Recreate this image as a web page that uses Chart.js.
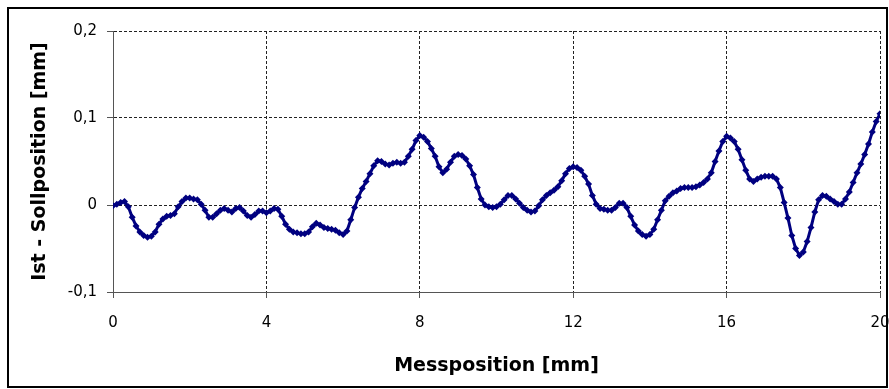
<!DOCTYPE html>
<html>
<head>
<meta charset="utf-8">
<script src="https://cdn.jsdelivr.net/npm/chart.js@4"></script>
<style>
  body { margin: 0; background: #fff; }
  .frame { position: relative; width: 889px; height: 389px; }
  .outline { position: absolute; left: 7px; top: 7px; width: 881px; height: 381px;
             border: 2px solid #000; box-sizing: border-box; pointer-events: none; }
</style>
</head>
<body>
<div class="frame">
  <canvas id="myChart" width="889" height="389"></canvas>
  <div class="outline"></div>
</div>
<script>
  // measured data: position [mm] and deviation Ist - Soll [mm]
  const positions = [
    0, 0.1, 0.2, 0.3, 0.4, 0.5, 0.6, 0.7, 0.8, 0.9,
    1, 1.1, 1.2, 1.3, 1.4, 1.5, 1.6, 1.7, 1.8, 1.9,
    2, 2.1, 2.2, 2.3, 2.4, 2.5, 2.6, 2.7, 2.8, 2.9,
    3, 3.1, 3.2, 3.3, 3.4, 3.5, 3.6, 3.7, 3.8, 3.9,
    4, 4.1, 4.2, 4.3, 4.4, 4.5, 4.6, 4.7, 4.8, 4.9,
    5, 5.1, 5.2, 5.3, 5.4, 5.5, 5.6, 5.7, 5.8, 5.9,
    6, 6.1, 6.2, 6.3, 6.4, 6.5, 6.6, 6.7, 6.8, 6.9,
    7, 7.1, 7.2, 7.3, 7.4, 7.5, 7.6, 7.7, 7.8, 7.9,
    8, 8.1, 8.2, 8.3, 8.4, 8.5, 8.6, 8.7, 8.8, 8.9,
    9, 9.1, 9.2, 9.3, 9.4, 9.5, 9.6, 9.7, 9.8, 9.9,
    10, 10.1, 10.2, 10.3, 10.4, 10.5, 10.6, 10.7, 10.8, 10.9,
    11, 11.1, 11.2, 11.3, 11.4, 11.5, 11.6, 11.7, 11.8, 11.9,
    12, 12.1, 12.2, 12.3, 12.4, 12.5, 12.6, 12.7, 12.8, 12.9,
    13, 13.1, 13.2, 13.3, 13.4, 13.5, 13.6, 13.7, 13.8, 13.9,
    14, 14.1, 14.2, 14.3, 14.4, 14.5, 14.6, 14.7, 14.8, 14.9,
    15, 15.1, 15.2, 15.3, 15.4, 15.5, 15.6, 15.7, 15.8, 15.9,
    16, 16.1, 16.2, 16.3, 16.4, 16.5, 16.6, 16.7, 16.8, 16.9,
    17, 17.1, 17.2, 17.3, 17.4, 17.5, 17.6, 17.7, 17.8, 17.9,
    18, 18.1, 18.2, 18.3, 18.4, 18.5, 18.6, 18.7, 18.8, 18.9,
    19, 19.1, 19.2, 19.3, 19.4, 19.5, 19.6, 19.7, 19.8, 19.9,
    20
  ]

  const deviations = [
    -0.001, 0.001, 0.003, 0.004, -0.002, -0.014, -0.024, -0.031, -0.035, -0.037,
    -0.036, -0.031, -0.022, -0.016, -0.013, -0.012, -0.010, -0.002, 0.004, 0.008,
    0.008, 0.007, 0.006, 0.001, -0.006, -0.014, -0.014, -0.010, -0.006, -0.004,
    -0.006, -0.008, -0.004, -0.003, -0.007, -0.012, -0.014, -0.011, -0.007, -0.007,
    -0.009, -0.007, -0.004, -0.005, -0.013, -0.022, -0.028, -0.031, -0.032, -0.033,
    -0.033, -0.031, -0.025, -0.021, -0.023, -0.026, -0.027, -0.028, -0.029, -0.032,
    -0.034, -0.030, -0.017, -0.003, 0.009, 0.019, 0.027, 0.036, 0.045, 0.051,
    0.050, 0.047, 0.046, 0.048, 0.049, 0.048, 0.049, 0.056, 0.064, 0.074,
    0.080, 0.078, 0.073, 0.065, 0.056, 0.044, 0.037, 0.041, 0.049, 0.056,
    0.058, 0.057, 0.053, 0.045, 0.035, 0.020, 0.007, 0.000, -0.002, -0.003,
    -0.002, 0.001, 0.006, 0.011, 0.011, 0.007, 0.002, -0.003, -0.006, -0.008,
    -0.007, -0.001, 0.006, 0.011, 0.014, 0.017, 0.021, 0.028, 0.036, 0.042,
    0.044, 0.043, 0.040, 0.033, 0.024, 0.011, 0.001, -0.004, -0.005, -0.006,
    -0.006, -0.003, 0.002, 0.002, -0.003, -0.013, -0.023, -0.030, -0.034, -0.036,
    -0.034, -0.028, -0.017, -0.006, 0.005, 0.010, 0.014, 0.016, 0.019, 0.020,
    0.020, 0.020, 0.021, 0.023, 0.026, 0.030, 0.037, 0.050, 0.062, 0.073,
    0.079, 0.077, 0.073, 0.064, 0.052, 0.040, 0.030, 0.027, 0.030, 0.032,
    0.033, 0.033, 0.033, 0.030, 0.020, 0.003, -0.015, -0.035, -0.050, -0.058,
    -0.054, -0.042, -0.026, -0.008, 0.006, 0.011, 0.010, 0.007, 0.004, 0.001,
    0.001, 0.007, 0.015, 0.026, 0.037, 0.047, 0.058, 0.070, 0.084, 0.096,
    0.105
  ]

  const yTickLabels = ['-0,1', '0', '0,1', '0,2']
  const xTitle = 'Messposition [mm]'
  const yTitle = 'Ist - Sollposition [mm]'

  const points = []
  for (let i = 0; i < positions.length; i++) {
    points.push({ x: positions[i], y: deviations[i] })
  }

  const fontFamily = '"DejaVu Sans", Verdana, sans-serif'

  const ctx = document.getElementById('myChart')

  new Chart(ctx, {
    type: 'scatter',
    data: {
      datasets: [{
        data: points,
        pointStyle: 'rectRot',
        pointRadius: 3.5,
        pointBorderWidth: 0,
        backgroundColor: '#000080',
        borderColor: '#000080',
        borderWidth: 3,
        showLine: true
      }]
    },
    options: {
      responsive: false,
      devicePixelRatio: 1,
      animation: false,
      layout: { padding: { left: 8, right: 9, top: 31, bottom: 0 } },
      scales: {
        x: {
          type: 'linear',
          min: 0,
          max: 20,
          ticks: { stepSize: 4, color: '#000', padding: 16, maxRotation: 0,
                   font: { family: fontFamily, size: 15 } },
          grid: { color: '#222', lineWidth: 1, tickLength: 6, tickColor: '#555', tickBorderDash: [] },
          border: { color: '#555', width: 1, dash: [3, 2] },
          title: { display: true, text: xTitle, color: '#000',
                   font: { family: fontFamily, size: 19, weight: 'bold' },
                   padding: { top: 0, bottom: 12 } },
          afterFit: scale => {
            scale.height = 97
            scale.paddingLeft = 0
            scale.paddingRight = 0
          }
        },
        y: {
          min: -0.1,
          max: 0.2,
          ticks: { stepSize: 0.1, color: '#000', padding: 10,
                   font: { family: fontFamily, size: 15 },
                   callback: (v, i) => yTickLabels[i] },
          grid: { color: '#222', lineWidth: 1, tickLength: 6, tickColor: '#555', tickBorderDash: [] },
          border: { color: '#555', width: 1, dash: [3, 2] },
          title: { display: true, text: yTitle, color: '#000',
                   font: { family: fontFamily, size: 19, weight: 'bold' },
                   padding: { top: 21, bottom: 0 } },
          afterFit: scale => { scale.width = 105 }
        }
      },
      plugins: {
        legend: { display: false },
        tooltip: { enabled: false }
      }
    }
  })
</script>
</body>
</html>
